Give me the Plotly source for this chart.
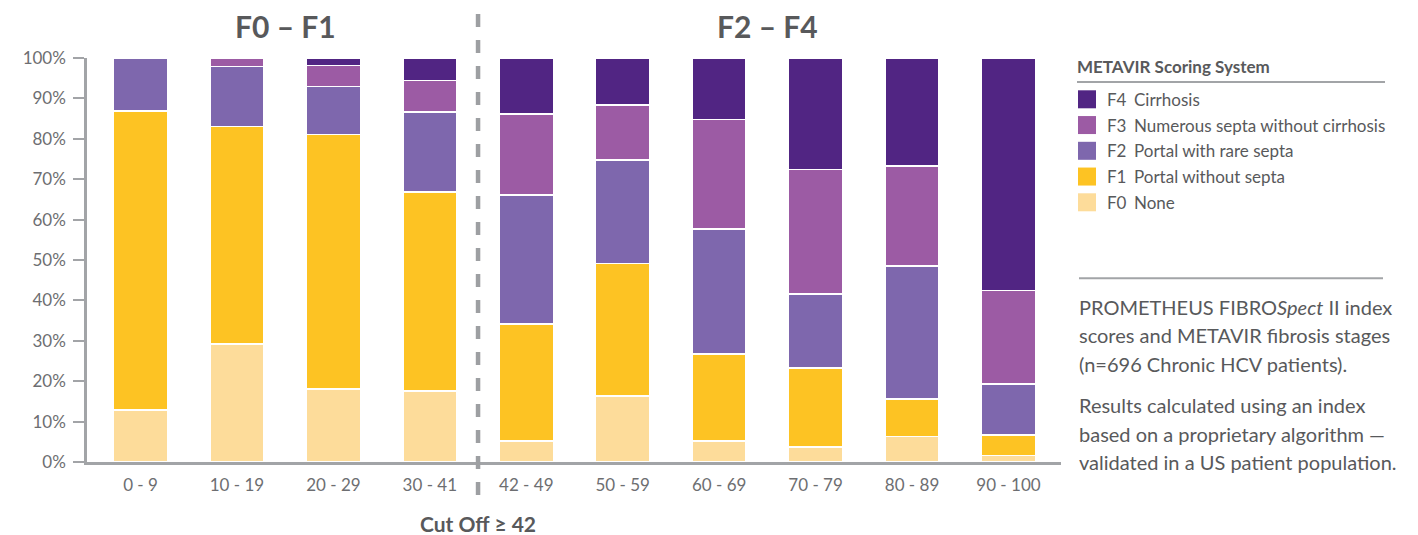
import plotly.graph_objects as go

# ---------------- data ----------------
categories = ["0 - 9", "10 - 19", "20 - 29", "30 - 41", "42 - 49",
              "50 - 59", "60 - 69", "70 - 79", "80 - 89", "90 - 100"]
f0_none = [12.9, 29.2, 18.1, 17.6, 5.2, 16.3, 5.2, 3.7, 6.3, 1.6]
f1_portal_no_septa = [74.0, 53.8, 63.0, 49.2, 29.0, 32.8, 21.5, 19.6, 9.3, 5.1]
f2_portal_rare_septa = [13.1, 14.9, 11.9, 19.8, 31.9, 25.7, 31.0, 18.3, 32.9, 12.6]
f3_numerous_septa = [0.0, 2.1, 5.1, 7.8, 20.0, 13.6, 27.1, 30.8, 24.8, 23.2]
f4_cirrhosis = [0.0, 0.0, 1.9, 5.6, 13.9, 11.6, 15.2, 27.6, 26.7, 57.5]

stage_codes = ["F0", "F1", "F2", "F3", "F4"]
stage_names = ["None", "Portal without septa", "Portal with rare septa",
               "Numerous septa without cirrhosis", "Cirrhosis"]
stage_values = [f0_none, f1_portal_no_septa, f2_portal_rare_septa,
                f3_numerous_septa, f4_cirrhosis]
stage_colors = ["#FDDC9A", "#FDC323", "#7E67AD", "#9C5BA4", "#512583"]

y_ticks = [0, 10, 20, 30, 40, 50, 60, 70, 80, 90, 100]
y_tick_labels = [f"{v}%" for v in y_ticks]
cutoff_category = "42 - 49"
group_titles = ["F0 – F1", "F2 – F4"]
cutoff_label = "Cut Off ≥ 42"
legend_title = "METAVIR Scoring System"
note_lines_1 = ["PROMETHEUS FIBRO<i>Spect</i> II index",
                "scores and METAVIR fibrosis stages",
                "(n=696 Chronic HCV patients)."]
note_lines_2 = ["Results calculated using an index",
                "based on a proprietary algorithm —",
                "validated in a US patient population."]

# ---------------- layout geometry ----------------
W, H = 1418, 535
ML, MR, MT, MB = 87, 357, 58, 73
PW, PH = W - ML - MR, H - MT - MB
X_RANGE = [-0.555, 9.545]

def px_x(px):
    return (px - ML) / PW

def px_y(py):
    return (H - MB - py) / PH

FONT = "Lato, Roboto, sans-serif"
GRAY_TXT = "#58595B"
TICK_TXT = "#6D6E71"
LINE_GRAY = "#A2A4A7"

fig = go.Figure()
for code, name, vals, col in zip(stage_codes, stage_names, stage_values, stage_colors):
    fig.add_trace(go.Bar(
        x=categories, y=vals, name=f"{code} {name}",
        marker=dict(color=col, line=dict(color="white", width=1.5)),
        width=0.56, showlegend=False,
        hovertemplate="%{x}: %{y:.1f}%<extra>" + code + "</extra>",
    ))

cut_idx = categories.index(cutoff_category)
boundaries = [i + 0.5 for i in range(len(categories) - 1)]

annotations = []
left_center = (cut_idx - 1) / 2
right_center = (cut_idx + len(categories) - 1) / 2
for t, xc in zip(group_titles, [left_center, right_center]):
    annotations.append(dict(x=xc, xref="x", y=px_y(26), yref="paper", text=t,
                            showarrow=False, xanchor="center", yanchor="middle",
                            font=dict(family=FONT, size=30, color=GRAY_TXT, weight="bold")))
annotations.append(dict(x=cut_idx - 0.5, xref="x", y=px_y(523), yref="paper",
                        text=cutoff_label, showarrow=False, xanchor="center", yanchor="middle",
                        font=dict(family=FONT, size=21, color=GRAY_TXT, weight="bold")))

shapes = [dict(type="line", xref="x", yref="paper", x0=cut_idx - 0.5, x1=cut_idx - 0.5,
               y0=px_y(14), y1=px_y(497),
               line=dict(color="#9D9FA2", width=4.5, dash="13px,13px"))]

# legend (drawn manually, top stage first)
annotations.append(dict(x=px_x(1075), y=px_y(66), xref="paper", yref="paper",
                        text=legend_title, showarrow=False, xanchor="left", yanchor="middle",
                        font=dict(family=FONT, size=17, color=GRAY_TXT, weight="bold")))
shapes.append(dict(type="line", xref="paper", yref="paper", x0=px_x(1077), x1=px_x(1385),
                   y0=px_y(82), y1=px_y(82), line=dict(color=LINE_GRAY, width=2)))
order = list(range(len(stage_codes)))[::-1]
for k, i in enumerate(order):
    yc = 99.3 + 25.75 * k
    shapes.append(dict(type="rect", xref="paper", yref="paper",
                       x0=px_x(1078), x1=px_x(1096), y0=px_y(yc - 9), y1=px_y(yc + 9),
                       fillcolor=stage_colors[i], line=dict(width=0)))
    annotations.append(dict(x=px_x(1105), y=px_y(yc), xref="paper", yref="paper",
                            text=stage_codes[i], showarrow=False, xanchor="left", yanchor="middle",
                            font=dict(family=FONT, size=17, color=GRAY_TXT)))
    annotations.append(dict(x=px_x(1132), y=px_y(yc), xref="paper", yref="paper",
                            text=stage_names[i], showarrow=False, xanchor="left", yanchor="middle",
                            font=dict(family=FONT, size=17, color=GRAY_TXT)))

shapes.append(dict(type="line", xref="paper", yref="paper", x0=px_x(1079), x1=px_x(1383),
                   y0=px_y(278.3), y1=px_y(278.3), line=dict(color=LINE_GRAY, width=2)))
for lines, y_start in [(note_lines_1, 306.7), (note_lines_2, 405.0)]:
    for j, line in enumerate(lines):
        annotations.append(dict(x=px_x(1077), y=px_y(y_start + 28.7 * j), xref="paper", yref="paper",
                                text=line, showarrow=False, xanchor="left", yanchor="middle",
                                font=dict(family=FONT, size=20, color=GRAY_TXT)))

fig.update_layout(
    width=W, height=H, barmode="stack", bargap=0.44,
    margin=dict(l=ML, r=MR, t=MT, b=MB, pad=0),
    paper_bgcolor="white", plot_bgcolor="white",
    font=dict(family=FONT, color=TICK_TXT),
    annotations=annotations, shapes=shapes,
    xaxis=dict(type="category", range=X_RANGE, showgrid=False, zeroline=False,
               showline=True, linecolor=LINE_GRAY, linewidth=2.5, ticks="",
               tickfont=dict(family=FONT, size=17, color=TICK_TXT), ticklabelstandoff=6),
    xaxis2=dict(type="linear", overlaying="x", anchor="y", range=X_RANGE,
                showgrid=False, zeroline=False, showline=False, showticklabels=False,
                tickmode="array", tickvals=boundaries, ticks="outside", ticklen=10,
                tickwidth=2, tickcolor=LINE_GRAY),
    yaxis=dict(range=[0, 100], tickmode="array", tickvals=y_ticks, ticktext=y_tick_labels,
               showgrid=False, zeroline=False, showline=True, linecolor=LINE_GRAY,
               linewidth=2.5, ticks="outside", ticklen=11, tickwidth=2, tickcolor=LINE_GRAY,
               tickfont=dict(family=FONT, size=17, color=TICK_TXT), ticklabelstandoff=4),
)

fig.write_html("out.html", config={"displayModeBar": False},
               post_script="document.body.style.margin='0';document.body.style.overflow='hidden';")
